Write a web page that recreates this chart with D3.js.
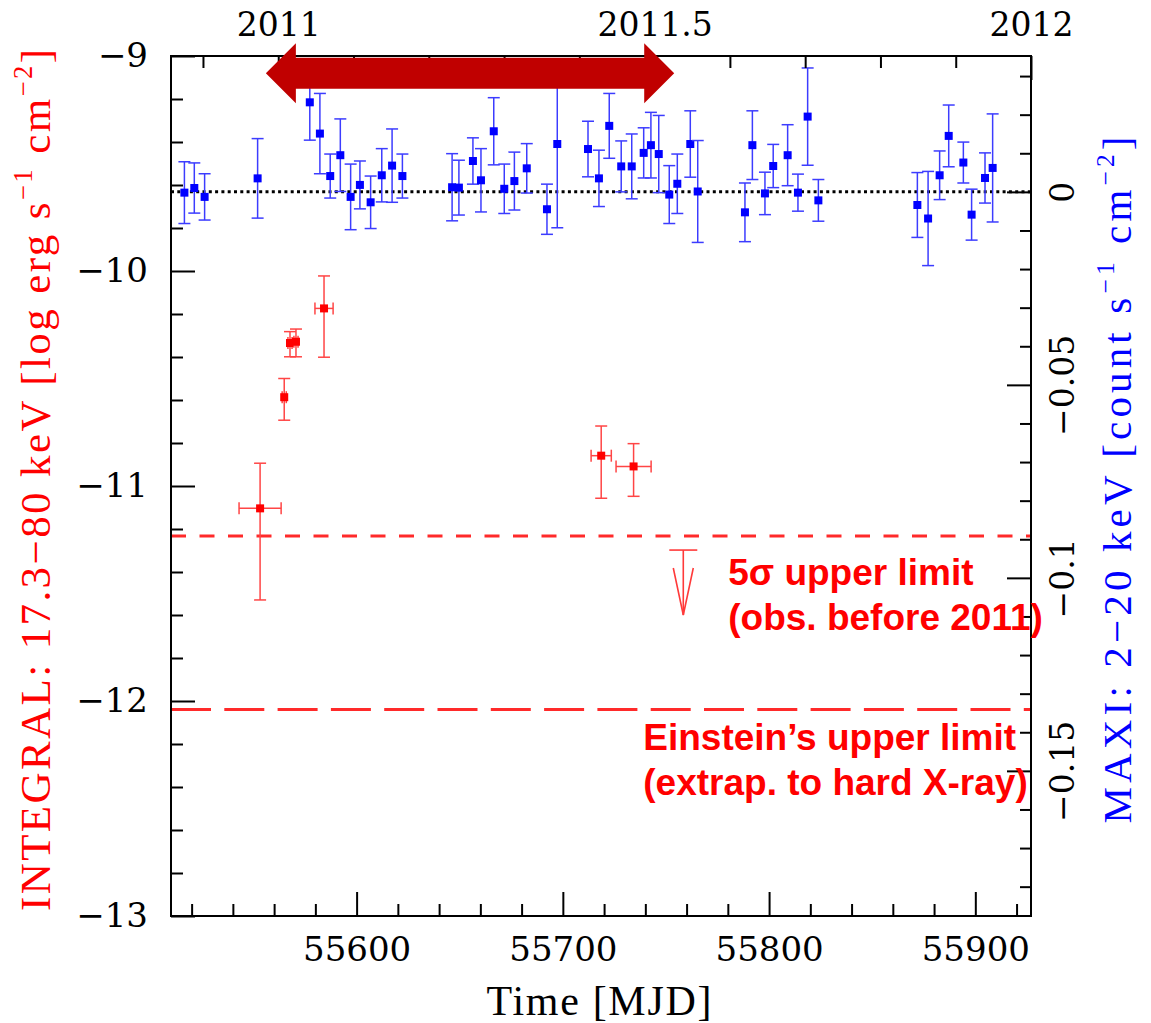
<!DOCTYPE html>
<html>
<head>
<meta charset="utf-8">
<script src="https://cdn.jsdelivr.net/npm/d3@7"></script>
<style>
  body { margin: 0; background: #fff; }
</style>
</head>
<body>
<svg id="chart" width="1151" height="1023"></svg>
<script>
// ---- MAXI 2-20 keV light curve (count s^-1 cm^-2) ----
const maxiMJD = [
  55516.5, 55521.3, 55526.3, 55552.0, 55577.3, 55582.2, 55587.2, 55592.1, 55597.1, 55601.6,
  55606.8, 55612.2, 55617.2, 55622.2, 55646.3, 55649.6, 55656.4, 55660.3, 55666.5, 55671.6,
  55676.5, 55682.5, 55692.3, 55697.3, 55712.2, 55717.5, 55722.5, 55728.3, 55733.4, 55739.2,
  55742.7, 55746.5, 55751.6, 55755.5, 55761.8, 55765.4, 55788.3, 55791.9, 55798.0, 55802.0,
  55809.0, 55814.0, 55818.7, 55823.9, 55871.9, 55877.1, 55882.7, 55887.1, 55894.2, 55898.2,
  55904.7, 55908.4
];
const maxiRate = [
  -0.0002, 0.0010, -0.0013, 0.0035, 0.0232, 0.0151, 0.0041, 0.0095, -0.0013, 0.0018,
  -0.0027, 0.0043, 0.0068, 0.0041, 0.0012, 0.0011, 0.0080, 0.0030, 0.0157, 0.0008,
  0.0028, 0.0061, -0.0045, 0.0124, 0.0111, 0.0035, 0.0171, 0.0066, 0.0066, 0.0101,
  0.0121, 0.0098, -0.0007, 0.0021, 0.0124, 0.0001, -0.0053, 0.0121, -0.0004, 0.0067,
  0.0095, -0.0002, 0.0195, -0.0022, -0.0034, -0.0069, 0.0043, 0.0145, 0.0076, -0.0059,
  0.0036, 0.0062
];
const maxiErr = [
  0.0080, 0.0065, 0.0060, 0.0103, 0.0098, 0.0104, 0.0057, 0.0094, 0.0085, 0.0062,
  0.0068, 0.0069, 0.0095, 0.0057, 0.0087, 0.0071, 0.0060, 0.0082, 0.0087, 0.0064,
  0.0075, 0.0064, 0.0065, 0.0217, 0.0072, 0.0073, 0.0084, 0.0066, 0.0084, 0.0065,
  0.0085, 0.0100, 0.0075, 0.0077, 0.0086, 0.0132, 0.0076, 0.0089, 0.0055, 0.0056,
  0.0079, 0.0048, 0.0126, 0.0054, 0.0084, 0.0122, 0.0063, 0.0080, 0.0053, 0.0066,
  0.0065, 0.0140
];

// ---- INTEGRAL 17.3-80 keV fluxes (log erg s^-1 cm^-2) ----
const integralMJD     = [55553.2, 55564.9, 55567.7, 55570.6, 55584.2, 55718.6, 55734.3];
const integralMJDErr  = [10.2, 1.0, 1.0, 1.0, 4.4, 4.9, 8.5];
const integralFlux    = [-11.104, -10.587, -10.335, -10.329, -10.174, -10.859, -10.909];
const integralErrUp   = [0.210, 0.087, 0.053, 0.059, 0.151, 0.138, 0.106];
const integralErrDown = [0.426, 0.107, 0.064, 0.070, 0.227, 0.198, 0.139];

// ---- limits and annotations (log flux) ----
const fiveSigmaLimit = -11.233;
const einsteinLimit = -12.04;
const ulArrowMJD = 55758.4;
const ulArrowRange = [-11.298, -11.6];
const coverageMJD = [55556, 55754];
const coverageLevel = -9.08;

// ---- axes ----
const xDomain = [55510, 55927];
const leftDomain = [-13, -9];
const rightDomain = [-0.1876, 0.0352];
const leftTicks = [-13, -12, -11, -10, -9];
const leftTickLabels = ["\u221213", "\u221212", "\u221211", "\u221210", "\u22129"];
const rightTicks = [-0.15, -0.1, -0.05, 0];
const rightTickLabels = ["\u22120.15", "\u22120.1", "\u22120.05", "0"];
const bottomTicks = [55600, 55700, 55800, 55900];
const bottomTickLabels = ["55600", "55700", "55800", "55900"];
const yearTicks = [2011, 2011.5, 2012];
const yearTickLabels = ["2011", "2011.5", "2012"];
const mjdOfYear = y => 55562 + (y - 2011) * 365;

const svg = d3.select("#chart");
const L = 171, R = 1031, T = 56, B = 916;

const x = d3.scaleLinear().domain(xDomain).range([L, R]);
const yL = d3.scaleLinear().domain(leftDomain).range([B, T]);
const yR = d3.scaleLinear().domain(rightDomain).range([B, T]);

// upper limit lines
svg.append("line")
  .attr("x1", L).attr("x2", R)
  .attr("y1", yL(fiveSigmaLimit)).attr("y2", yL(fiveSigmaLimit))
  .attr("stroke", "#ff2a2a").attr("stroke-width", 3)
  .attr("stroke-dasharray", "15,13.5");
svg.append("line")
  .attr("x1", L).attr("x2", R)
  .attr("y1", yL(einsteinLimit)).attr("y2", yL(einsteinLimit))
  .attr("stroke", "#ff2a2a").attr("stroke-width", 3)
  .attr("stroke-dasharray", "40,13.3");

// zero level of the MAXI rate
svg.append("line")
  .attr("x1", L).attr("x2", R)
  .attr("y1", yR(0)).attr("y2", yR(0))
  .attr("stroke", "#000").attr("stroke-width", 3)
  .attr("stroke-dasharray", "3,3.3");

// MAXI points
const maxi = maxiMJD.map((m, i) => ({ m, v: maxiRate[i], e: maxiErr[i] }));
const gM = svg.append("g");
const blueBar = "#3c3cff";
maxi.forEach(d => {
  const cx = x(d.m), y1 = yR(d.v + d.e), y2 = yR(d.v - d.e);
  gM.append("line").attr("x1", cx).attr("x2", cx).attr("y1", y1).attr("y2", y2)
    .attr("stroke", blueBar).attr("stroke-width", 1.5);
  [y1, y2].forEach(yy => gM.append("line")
    .attr("x1", cx - 6).attr("x2", cx + 6).attr("y1", yy).attr("y2", yy)
    .attr("stroke", blueBar).attr("stroke-width", 1.5));
  gM.append("rect").attr("x", cx - 4).attr("y", yR(d.v) - 4)
    .attr("width", 8).attr("height", 8).attr("fill", "#0000ff");
});

// INTEGRAL points
const integral = integralMJD.map((m, i) => ({
  m, me: integralMJDErr[i], v: integralFlux[i], up: integralErrUp[i], dn: integralErrDown[i]
}));
const gI = svg.append("g");
const redBar = "#ff4545";
integral.forEach(d => {
  const cx = x(d.m), cy = yL(d.v);
  const y1 = yL(d.v + d.up), y2 = yL(d.v - d.dn);
  const x1 = x(d.m - d.me), x2 = x(d.m + d.me);
  gI.append("line").attr("x1", cx).attr("x2", cx).attr("y1", y1).attr("y2", y2)
    .attr("stroke", redBar).attr("stroke-width", 1.5);
  [y1, y2].forEach(yy => gI.append("line")
    .attr("x1", cx - 6).attr("x2", cx + 6).attr("y1", yy).attr("y2", yy)
    .attr("stroke", redBar).attr("stroke-width", 1.5));
  gI.append("line").attr("x1", x1).attr("x2", x2).attr("y1", cy).attr("y2", cy)
    .attr("stroke", redBar).attr("stroke-width", 1.5);
  [x1, x2].forEach(xx => gI.append("line")
    .attr("x1", xx).attr("x2", xx).attr("y1", cy - 6).attr("y2", cy + 6)
    .attr("stroke", redBar).attr("stroke-width", 1.5));
  gI.append("rect").attr("x", cx - 4).attr("y", cy - 4)
    .attr("width", 8).attr("height", 8).attr("fill", "#ff0000");
});

// 5-sigma upper limit arrow
{
  const ax = x(ulArrowMJD), ay0 = yL(ulArrowRange[0]), ay1 = yL(ulArrowRange[1]);
  const g = svg.append("g").attr("stroke", "#ff3a3a").attr("stroke-width", 1.6).attr("fill", "none");
  g.append("line").attr("x1", ax - 14).attr("x2", ax + 14).attr("y1", ay0).attr("y2", ay0);
  g.append("line").attr("x1", ax).attr("x2", ax).attr("y1", ay0).attr("y2", ay1);
  g.append("path").attr("d", `M${ax - 10},${ay1 - 47}L${ax},${ay1}L${ax + 10},${ay1 - 47}`);
}

// axes
function styleAxis(g, fs) {
  g.select(".domain").remove();
  g.selectAll(".tick line").attr("stroke", "#000").attr("stroke-width", 2);
  g.selectAll(".tick text").attr("fill", "#000");
  g.attr("font-family", "'DejaVu Serif', serif").attr("font-size", fs || 34);
}
const range = (a, b, s) => d3.range(Math.round(a / s), Math.round(b / s) + 1).map(k => +(k * s).toFixed(6));

// left
svg.append("g").attr("transform", `translate(${L},0)`)
  .call(d3.axisLeft(yL).tickValues(leftTicks).tickFormat((d, i) => leftTickLabels[i]).tickSize(-24).tickPadding(23))
  .call(g => styleAxis(g));
svg.append("g").attr("transform", `translate(${L},0)`)
  .call(d3.axisLeft(yL).tickValues(range(-13, -9, 0.2).filter(v => Math.abs(v - Math.round(v)) > 1e-6))
    .tickFormat("").tickSize(-12))
  .call(g => styleAxis(g));

// right
svg.append("g").attr("transform", `translate(${R},0)`)
  .call(d3.axisRight(yR).tickValues(rightTicks).tickFormat((d, i) => rightTickLabels[i]).tickSize(-24))
  .call(g => styleAxis(g, 33))
  .call(g => g.selectAll(".tick text")
    .attr("x", null).attr("dy", "0.36em")
    .attr("text-anchor", "middle")
    .attr("transform", "translate(31,0) rotate(-90)"));
svg.append("g").attr("transform", `translate(${R},0)`)
  .call(d3.axisRight(yR).tickValues(range(-0.18, 0.03, 0.01).filter(v => Math.abs(v / 0.05 - Math.round(v / 0.05)) > 1e-6))
    .tickFormat("").tickSize(-11))
  .call(g => styleAxis(g));

// bottom
svg.append("g").attr("transform", `translate(0,${B})`)
  .call(d3.axisBottom(x).tickValues(bottomTicks).tickFormat((d, i) => bottomTickLabels[i]).tickSize(-24).tickPadding(21))
  .call(g => styleAxis(g));
svg.append("g").attr("transform", `translate(0,${B})`)
  .call(d3.axisBottom(x).tickValues(range(55520, 55920, 20).filter(v => v % 100 !== 0))
    .tickFormat("").tickSize(-12))
  .call(g => styleAxis(g));

// top (calendar year)
svg.append("g").attr("transform", `translate(0,${T})`)
  .call(d3.axisTop(x).tickValues(yearTicks.map(mjdOfYear)).tickFormat((d, i) => yearTickLabels[i]).tickSize(-24).tickPadding(20))
  .call(g => styleAxis(g, 33));
svg.append("g").attr("transform", `translate(0,${T})`)
  .call(d3.axisTop(x).tickValues(range(2010.9, 2012, 0.1).filter(y => !yearTicks.some(t => Math.abs(t - y) < 1e-6)).map(mjdOfYear))
    .tickFormat("").tickSize(-12))
  .call(g => styleAxis(g));

// frame
svg.append("rect").attr("x", L).attr("y", T).attr("width", R - L).attr("height", B - T)
  .attr("fill", "none").attr("stroke", "#000").attr("stroke-width", 2);

// coverage arrow
{
  const x1 = x(coverageMJD[0]), x2 = x(coverageMJD[1]), yc = yL(coverageLevel);
  const hl = 30, hh = 30, sh = 15.5;
  svg.append("path")
    .attr("d", `M${x1},${yc}L${x1 + hl},${yc - hh}L${x1 + hl},${yc - sh}L${x2 - hl},${yc - sh}` +
               `L${x2 - hl},${yc - hh}L${x2},${yc}L${x2 - hl},${yc + hh}L${x2 - hl},${yc + sh}` +
               `L${x1 + hl},${yc + sh}L${x1 + hl},${yc + hh}Z`)
    .attr("fill", "#c00000");
}

// annotations
function note(mjd, val, lines) {
  const t = svg.append("text")
    .attr("x", x(mjd)).attr("y", yL(val))
    .attr("font-family", "'Liberation Sans', Arial, sans-serif")
    .attr("font-weight", "bold").attr("font-size", 37).attr("fill", "#ff0000");
  lines.forEach((s, i) => t.append("tspan").attr("x", x(mjd)).attr("dy", i ? 45 : 0).text(s));
}
note(55780.2, -11.46, ["5\u03c3 upper limit", "(obs. before 2011)"]);
note(55739.0, -12.228, ["Einstein\u2019s upper limit", "(extrap. to hard X-ray)"]);

// axis titles
function title(tx, ty, rot, color, size, len, parts) {
  const t = svg.append("text")
    .attr("transform", `translate(${tx},${ty})` + (rot ? ` rotate(${rot})` : ""))
    .attr("text-anchor", "middle")
    .attr("font-family", "'Liberation Serif', 'Times New Roman', serif")
    .attr("font-size", size).attr("fill", color)
    .attr("textLength", len).attr("lengthAdjust", "spacing");
  parts.forEach(p => {
    const s = t.append("tspan").text(p.t);
    if (p.sup) s.attr("baseline-shift", `${Math.round(size * 0.42)}px`).attr("font-size", size * 0.62);
  });
}
title(50, 480, -90, "#ff0000", 43, 862, [
  { t: "INTEGRAL: 17.3\u221280 keV [log erg s" }, { t: "\u22121", sup: true },
  { t: " cm" }, { t: "\u22122", sup: true }, { t: "]" }
]);
title(1131, 480, -90, "#0000ff", 41, 687, [
  { t: "MAXI: 2\u221220 keV [count s" }, { t: "\u22121", sup: true },
  { t: " cm" }, { t: "\u22122", sup: true }, { t: "]" }
]);
title(599, 1015, 0, "#000", 42, 225, [{ t: "Time [MJD]" }]);
</script>
</body>
</html>
